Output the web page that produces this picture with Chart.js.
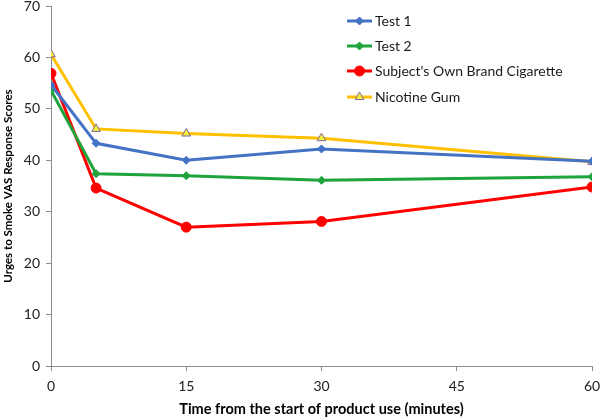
<!DOCTYPE html>
<html>
<head>
<meta charset="utf-8">
<script src="https://cdn.jsdelivr.net/npm/chart.js@4"></script>
<style>
  html, body { margin: 0; padding: 0; background: #fff; }
  #wrap { width: 600px; height: 418px; }
</style>
</head>
<body>
<div id="wrap"><canvas id="myChart"></canvas></div>
<script>
// time points (minutes) and series values
const minutes = [0, 5, 15, 30, 60];
const test1 = [54.7, 43.3, 40.0, 42.2, 39.8];
const test2 = [53.6, 37.4, 37.0, 36.1, 36.8];
const ownBrand = [56.9, 34.6, 27.0, 28.1, 34.8];
const nicotineGum = [60.6, 46.1, 45.2, 44.3, 39.7];
const seriesNames = ['Test 1', 'Test 2', "Subject's Own Brand Cigarette", 'Nicotine Gum'];
const xTicks = [0, 15, 30, 45, 60];
const yTicks = [0, 10, 20, 30, 40, 50, 60, 70];

const FONT = 'Lato, "Open Sans", sans-serif';

function toPoints(values) {
    return values.map((v, i) => ({ x: minutes[i], y: v }));
}

const styles = [
    { color: '#4472c4', fill: '#4472c4', point: 'rectRot', radius: 4 },
    { color: '#1fa33c', fill: '#1fa33c', point: 'rectRot', radius: 4 },
    { color: '#ff0000', fill: '#ff0000', point: 'circle', radius: 5 },
    { color: '#ffc000', fill: '#f2ee3a', point: 'triangle', radius: 5, border: '#8064a2' }
];

const allValues = [test1, test2, ownBrand, nicotineGum];

const datasets = allValues.map((vals, i) => ({
    label: seriesNames[i],
    data: toPoints(vals),
    borderColor: styles[i].color,
    backgroundColor: styles[i].fill,
    borderWidth: 3,
    pointStyle: styles[i].point,
    pointRadius: styles[i].radius,
    pointBackgroundColor: styles[i].fill,
    pointBorderColor: styles[i].border || styles[i].color,
    pointBorderWidth: 1,
    tension: 0
}));

// legend drawn inside the plot, top right, like the original
const insideLegend = {
    id: 'insideLegend',
    afterDraw(chart) {
        const c = chart.ctx;
        const x0 = 347, lineLen = 25, textX = 375;
        const rowY = [21, 46, 71, 97];
        c.save();
        c.font = '14px ' + FONT;
        c.textBaseline = 'middle';
        chart.data.datasets.forEach((ds, i) => {
            const y = rowY[i];
            c.strokeStyle = ds.borderColor;
            c.lineWidth = 3;
            c.beginPath();
            c.moveTo(x0, y);
            c.lineTo(x0 + lineLen, y);
            c.stroke();
            c.fillStyle = ds.pointBackgroundColor;
            c.strokeStyle = ds.pointBorderColor;
            c.lineWidth = 1;
            Chart.helpers.drawPoint(c, {
                pointStyle: ds.pointStyle,
                radius: ds.pointRadius,
                rotation: 0,
                borderWidth: 1
            }, x0 + lineLen / 2, y);
            c.fillStyle = '#1a1a1a';
            c.fillText(ds.label, textX, y);
        });
        c.restore();
    }
};

new Chart(document.getElementById('myChart'), {
    type: 'line',
    data: { datasets: datasets },
    options: {
        responsive: true,
        maintainAspectRatio: false,
        animation: false,
        layout: { padding: 0 },
        plugins: {
            legend: { display: false },
            tooltip: { enabled: false }
        },
        scales: {
            x: {
                type: 'linear',
                min: 0,
                max: 60,
                afterBuildTicks: axis => { axis.ticks = xTicks.map(v => ({ value: v })); },
                afterFit: s => { s.height = 52; s.paddingRight = 8; s.paddingLeft = 0; },
                grid: { drawOnChartArea: false, drawTicks: true, tickLength: 5, color: '#8c8c8c' },
                border: { color: '#8c8c8c', width: 1 },
                ticks: { color: '#222', font: { family: FONT, size: 14 }, padding: 7 },
                title: {
                    display: true,
                    text: 'Time from the start of product use (minutes)',
                    color: '#000',
                    font: { family: FONT, size: 14.5, weight: 'bold' },
                    padding: { top: 4, bottom: 0 }
                }
            },
            y: {
                min: 0,
                max: 70,
                afterBuildTicks: axis => { axis.ticks = yTicks.map(v => ({ value: v })); },
                afterFit: s => { s.width = 51; s.paddingTop = 6; s.paddingBottom = 0; },
                grid: { drawOnChartArea: false, drawTicks: true, tickLength: 5, color: '#8c8c8c' },
                border: { color: '#8c8c8c', width: 1 },
                ticks: { color: '#222', font: { family: FONT, size: 14 }, padding: 6 },
                title: {
                    display: true,
                    text: 'Urges to Smoke VAS Response Scores',
                    color: '#000',
                    font: { family: FONT, size: 11.5, weight: 'bold' },
                    padding: { top: 1, bottom: 5 }
                }
            }
        }
    },
    plugins: [insideLegend]
});
</script>
</body>
</html>
